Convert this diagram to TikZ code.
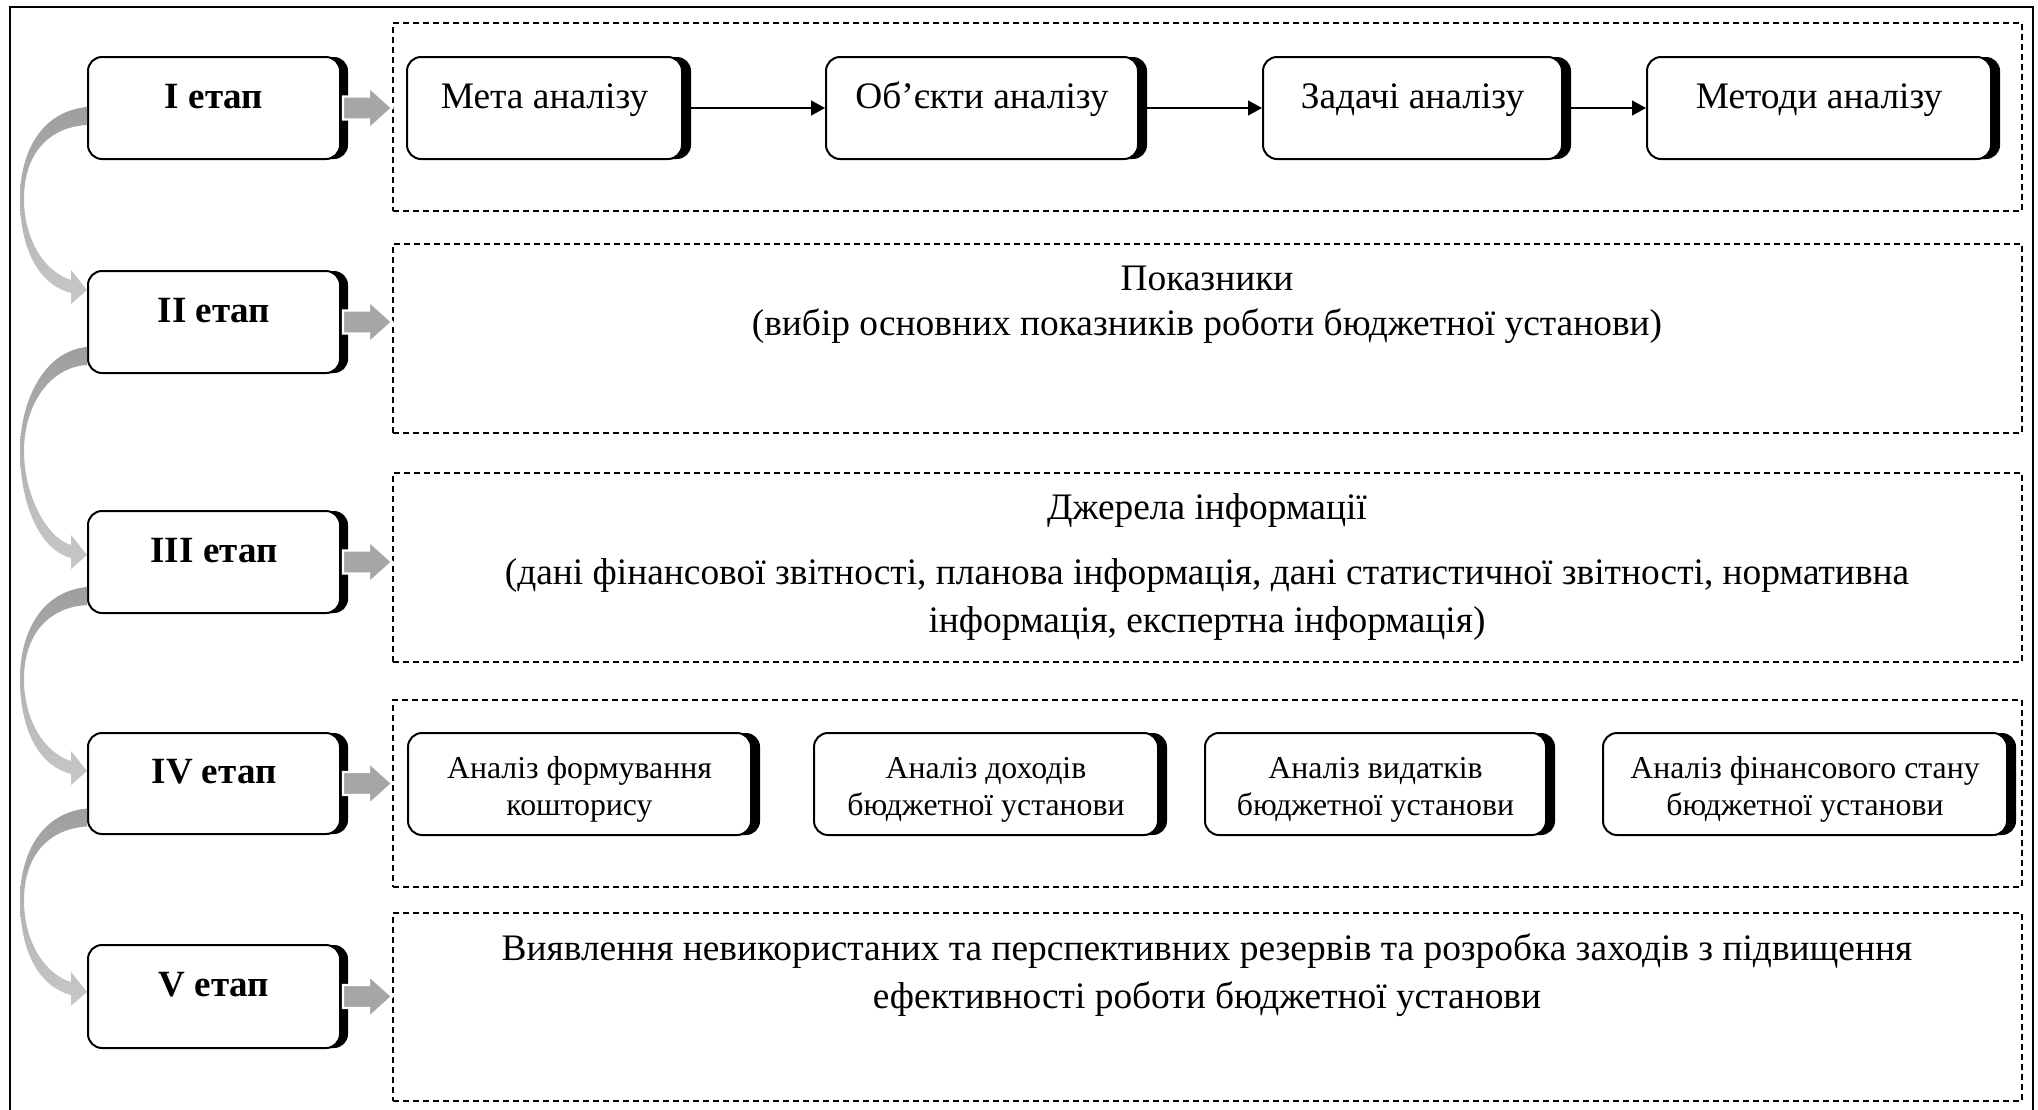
\documentclass[tikz,border=0pt]{standalone}
\usepackage{fontspec}
\setmainfont{Liberation Serif}
\usetikzlibrary{shadows,fit,calc,arrows.meta}
\definecolor{arrgray}{RGB}{166,166,166}
\definecolor{cdark}{RGB}{158,158,158}
\definecolor{clight}{RGB}{200,200,200}
\newcommand\myBlockArrow[2]{%
  \fill[arrgray, draw=white, line width=1.2pt]
    ($(#1.east)+(2,-11.5)$) -- ($(#1.east)+(28,-11.5)$) -- ($(#1.east)+(28,-21)$)
    -- (#2.west |- #1.east) -- ($(#1.east)+(28,21)$) -- ($(#1.east)+(28,11.5)$)
    -- ($(#1.east)+(2,11.5)$) -- cycle;}
\newcommand\myCurveArrow[4]{%
  \coordinate (ca#1) at ($(#1.west)+(0,#2)$);
  \coordinate (ct#1) at ($(#3.west)+(0,#4)$);
  \coordinate (cm#1) at ($(ca#1)!0.5!(ct#1)+(-67,0)$);
  \shade[top color=cdark, bottom color=clight]
    (ca#1) .. controls ($(ca#1)+(-43,4)$) and ($(cm#1)+(0,-50)$) .. (cm#1)
    .. controls ($(cm#1)+(0,48)$) and ($(ct#1)+(-50,-6)$) .. ($(ct#1)+(-16,3)$)
    -- ($(ct#1)+(-16,14)$) -- (ct#1) -- ($(ct#1)+(-16,-20)$) -- ($(ct#1)+(-16,-10)$)
    .. controls ($(ct#1)+(-42,-18)$) and ($(cm#1)+(4,42)$) .. ($(cm#1)+(4,0)$)
    .. controls ($(cm#1)+(4,-45)$) and ($(ca#1)+(-38,20)$) .. ($(ca#1)+(0,18)$)
    -- cycle;}
\begin{document}
\begin{tikzpicture}[x=0.5pt,y=-0.5pt,
  stagebox/.style={draw=black, line width=1pt, rounded corners=7pt, fill=white, inner sep=0pt,
    general shadow={fill=black, shadow xshift=4pt, shadow yshift=0pt}},
  itembox/.style={draw=black, line width=1pt, rounded corners=7pt, fill=white, inner sep=0pt,
    general shadow={fill=black, shadow xshift=4.5pt, shadow yshift=0pt}},
  dashbox/.style={draw=black, line width=0.75pt, dash pattern=on 3pt off 2pt, inner sep=0pt},
  stagetxt/.style={font=\fontsize{18.5pt}{22pt}\selectfont\bfseries, inner sep=0pt, anchor=base},
  mtxt/.style={font=\fontsize{18.7pt}{24pt}\selectfont, inner sep=0pt, anchor=base, align=center},
  stxt/.style={font=\fontsize{15.9pt}{18.5pt}\selectfont, inner sep=0pt, anchor=base, align=center},
  flowline/.style={line width=0.65pt, -{Triangle[length=7pt,width=7.5pt]}}]
\useasboundingbox (0,0) rectangle (2038,1109);
\fill[white] (0,0) rectangle (2038,1109);
% outer frame
\draw[line width=1pt] (10,1120) -- (10,7) -- (2033,7) -- (2033,1120);
% dashed containers
\node[dashbox, fit={(393,23)(2022,211)}] (d1) {};
\node[dashbox, fit={(393,244)(2022,433)}] (d2) {};
\node[dashbox, fit={(393,473)(2022,662)}] (d3) {};
\node[dashbox, fit={(393,700)(2022,887)}] (d4) {};
\node[dashbox, fit={(393,913)(2022,1101)}] (d5) {};
% stage boxes
\node[stagebox, fit={(88,57)(340,159)}] (s1) {};
\node[stagebox, fit={(88,271)(340,373)}] (s2) {};
\node[stagebox, fit={(88,511)(340,613)}] (s3) {};
\node[stagebox, fit={(88,733)(340,834)}] (s4) {};
\node[stagebox, fit={(88,945)(340,1048)}] (s5) {};
\node[stagetxt] (t1) at (s1.center) {I етап};
\node[stagetxt] (t2) at (s2.center) {II етап};
\node[stagetxt] (t3) at (s3.center) {III етап};
\node[stagetxt] (t4) at (s4.center) {IV етап};
\node[stagetxt] (t5) at (s5.center) {V етап};
% row I
\node[itembox, fit={(407,57)(682,159)}] (b1) {};
\node[itembox, fit={(826,57)(1138,159)}] (b2) {};
\node[itembox, fit={(1263,57)(1562,159)}] (b3) {};
\node[itembox, fit={(1647,57)(1991,159)}] (b4) {};
\node[mtxt] (bt1) at (b1.center) {Мета аналізу};
\node[mtxt] (bt2) at (b2.center) {Об’єкти аналізу};
\node[mtxt] (bt3) at (b3.center) {Задачі аналізу};
\node[mtxt] (bt4) at (b4.center) {Методи аналізу};
\draw[flowline] (b1.east) -- (b2.west);
\draw[flowline] (b2.east) -- (b3.west);
\draw[flowline] (b3.east) -- (b4.west);
% row II
\node[mtxt] (p1) at (1207,290) {Показники};
\node[mtxt] (p2) at (1207,335) {(вибір основних показників роботи бюджетної установи)};
% row III
\node[mtxt] (j1) at (1207,519) {Джерела інформації};
\node[mtxt] (j2) at (1207,584) {(дані фінансової звітності, планова інформація, дані статистичної звітності, нормативна};
\node[mtxt] (j3) at (1207,632) {інформація, експертна інформація)};
% row IV
\node[itembox, fit={(408,733)(751,835)}] (f1) {};
\node[itembox, fit={(814,733)(1158,835)}] (f2) {};
\node[itembox, fit={(1205,733)(1546,835)}] (f3) {};
\node[itembox, fit={(1603,733)(2007,835)}] (f4) {};
\node[stxt] (ft1) at ($(f1.center)+(0,31)$) {Аналіз формування\\кошторису};
\node[stxt] (ft2) at ($(f2.center)+(0,31)$) {Аналіз доходів\\бюджетної установи};
\node[stxt] (ft3) at ($(f3.center)+(0,31)$) {Аналіз видатків\\бюджетної установи};
\node[stxt] (ft4) at ($(f4.center)+(0,31)$) {Аналіз фінансового стану\\бюджетної установи};
% row V
\node[mtxt] (v1) at (1207,960) {Виявлення невикористаних та перспективних резервів та розробка заходів з підвищення};
\node[mtxt] (v2) at (1207,1008) {ефективності роботи бюджетної установи};
% block arrows
\myBlockArrow{s1}{d1}
\myBlockArrow{s2}{d2}
\myBlockArrow{s3}{d3}
\myBlockArrow{s4}{d4}
\myBlockArrow{s5}{d5}
% curved arrows
\myCurveArrow{s1}{-1}{s2}{-32}
\myCurveArrow{s2}{25}{s3}{-7}
\myCurveArrow{s3}{25}{s4}{-12.5}
\myCurveArrow{s4}{25}{s5}{-4.5}
\end{tikzpicture}
\end{document}
